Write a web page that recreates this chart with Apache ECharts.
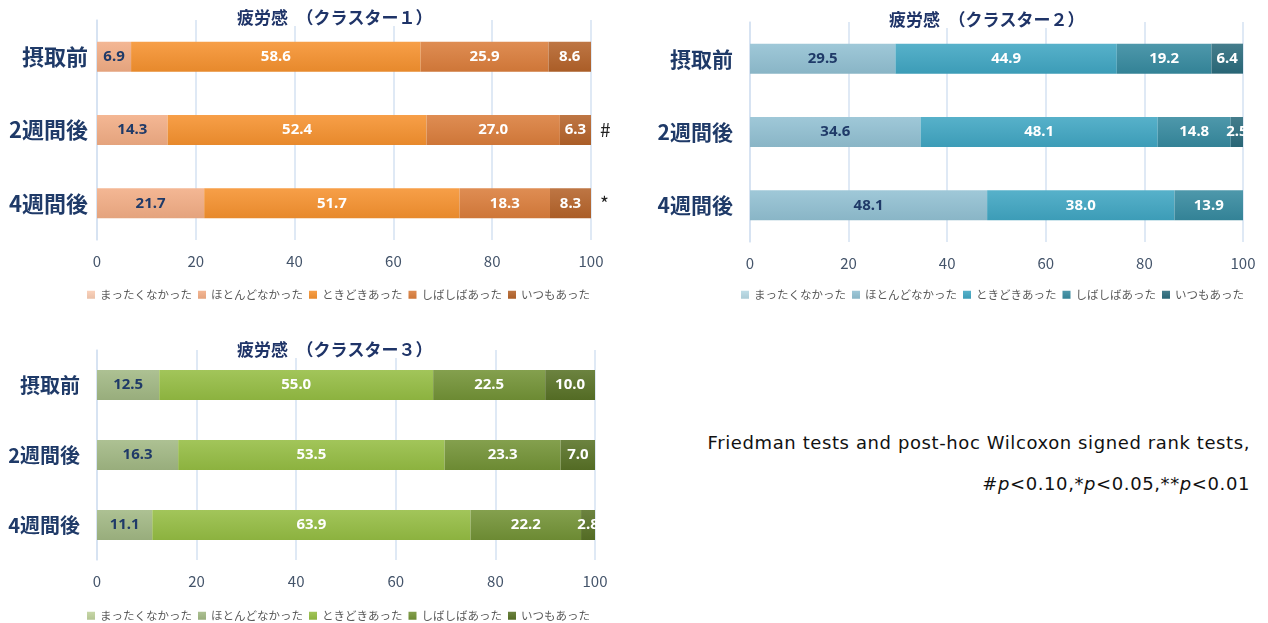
<!DOCTYPE html>
<html>
<head>
<meta charset="utf-8">
<script src="https://cdn.jsdelivr.net/npm/echarts@6/dist/echarts.min.js"></script>
<style>
  body { margin: 0; background: #fff; width: 1268px; height: 623px; position: relative; overflow: hidden; }
  .chart { position: absolute; }
  #note { position: absolute; right: 18px; top: 422px; text-align: right;
          font-family: "DejaVu Sans", sans-serif; font-size: 18px; letter-spacing: 0.6px;
          color: #111; line-height: 41px; }
</style>
</head>
<body>
<div id="chart1" class="chart" style="left:0;top:0;width:640px;height:310px"></div>
<div id="chart2" class="chart" style="left:634px;top:0;width:634px;height:310px"></div>
<div id="chart3" class="chart" style="left:0;top:320px;width:640px;height:303px"></div>
<div id="note">Friedman tests and post-hoc Wilcoxon signed rank tests,<br>#<i>p</i>&lt;0.10,*<i>p</i>&lt;0.05,**<i>p</i>&lt;0.01</div>
<script>
const categories = ["摂取前", "2週間後", "4週間後"];
const answers = ["まったくなかった", "ほとんどなかった", "ときどきあった", "しばしばあった", "いつもあった"];

// each array: values per category (摂取前, 2週間後, 4週間後)
const c1None = [0, 0, 0];
const c1Rarely = [6.9, 14.3, 21.7];
const c1Sometimes = [58.6, 52.4, 51.7];
const c1Often = [25.9, 27.0, 18.3];
const c1Always = [8.6, 6.3, 8.3];
const c1Marks = ["", "#", "*"];

const c2None = [0, 0, 0];
const c2Rarely = [29.5, 34.6, 48.1];
const c2Sometimes = [44.9, 48.1, 38.0];
const c2Often = [19.2, 14.8, 13.9];
const c2Always = [6.4, 2.5, 0];
const c2Marks = ["", "", ""];

const c3None = [0, 0, 0];
const c3Rarely = [12.5, 16.3, 11.1];
const c3Sometimes = [55.0, 53.5, 63.9];
const c3Often = [22.5, 23.3, 22.2];
const c3Always = [10.0, 7.0, 2.8];
const c3Marks = ["", "", ""];

const orange = ["#f9ccb3", "#f3ad85", "#f6922f", "#db7d3c", "#b5632a"];
const blue = ["#b6d8e4", "#92c1d3", "#40a6c3", "#368aa0", "#2b6b7c"];
const green = ["#bfd29c", "#a2b884", "#95bd43", "#739336", "#587226"];

function mix(hex, target, t) {
    const a = echarts.color.parse(hex);
    const b = echarts.color.parse(target);
    const c = [0, 1, 2].map(i => Math.round(a[i] + (b[i] - a[i]) * t));
    return "rgb(" + c.join(",") + ")";
}

function grad(color) {
    return new echarts.graphic.LinearGradient(0, 0, 0, 1, [
        {offset: 0, color: mix(color, "#ffffff", 0.12)},
        {offset: 1, color: mix(color, "#000000", 0.06)},
    ]);
}

function configureChart(chart, title, values, colors, marks, lay) {
    const series = values.map((vals, i) => ({
        name: answers[i],
        type: "bar",
        stack: "total",
        barWidth: 30,
        data: vals,
        itemStyle: {color: grad(colors[i])},
        label: {
            show: true,
            position: "inside",
            fontFamily: "Noto Sans",
            fontWeight: "bold",
            fontSize: 15,
            color: i < 2 ? "#1f3a68" : "#ffffff",
            formatter: p => (p.value > 0 ? p.value.toFixed(1) : ""),
        },
    }));

    const option = {
        animation: false,
        color: colors,
        textStyle: {fontFamily: "Noto Sans CJK JP"},
        title: {
            text: title,
            left: lay.titleLeft,
            top: lay.titleTop,
            padding: [0, 12],
            backgroundColor: "#ffffff",
            textStyle: {fontSize: 17, fontWeight: "bold", color: "#1f3468", fontFamily: "Noto Sans CJK JP"},
        },
        legend: {
            top: lay.legendTop,
            left: lay.legendLeft,
            icon: "rect",
            itemWidth: 8,
            itemHeight: 8,
            itemGap: 6,
            textStyle: {fontSize: 11.5, color: "#595959"},
            data: answers,
        },
        grid: {left: lay.left, right: lay.right, top: lay.top, bottom: lay.bottom},
        xAxis: {
            type: "value",
            min: 0,
            max: 100,
            interval: 20,
            axisLine: {show: false},
            axisTick: {show: false},
            axisLabel: {fontSize: 15, color: "#44546a", margin: 14},
            splitLine: {lineStyle: {color: "#d5e2f2", width: 1.5}},
        },
        yAxis: [
            {
                type: "category",
                inverse: true,
                data: categories,
                axisLine: {lineStyle: {color: "#d5e2f2", width: 1.5}},
                axisTick: {show: false},
                axisLabel: {fontSize: lay.labelSize, fontWeight: "bold", color: "#1f3a68", margin: lay.labelMargin},
            },
            {
                type: "category",
                inverse: true,
                position: "right",
                data: marks,
                axisLine: {show: false},
                axisTick: {show: false},
                axisLabel: {fontSize: 19, color: "#222", margin: 9},
            },
        ],
        series: series,
    };
    chart.setOption(option);
}

const chart1 = echarts.init(document.getElementById("chart1"));
const chart2 = echarts.init(document.getElementById("chart2"));
const chart3 = echarts.init(document.getElementById("chart3"));

configureChart(chart1, "疲労感　（クラスター１）",
    [c1None, c1Rarely, c1Sometimes, c1Often, c1Always], orange, c1Marks,
    {left: 97, right: 49, top: 20, bottom: 70, titleLeft: 225, titleTop: 9,
     legendLeft: 82, legendTop: 284, labelMargin: 9, labelSize: 22});
configureChart(chart2, "疲労感　（クラスター２）",
    [c2None, c2Rarely, c2Sometimes, c2Often, c2Always], blue, c2Marks,
    {left: 116, right: 25, top: 22, bottom: 68, titleLeft: 243, titleTop: 11,
     legendLeft: 102, legendTop: 284, labelMargin: 17, labelSize: 21});
configureChart(chart3, "疲労感　（クラスター３）",
    [c3None, c3Rarely, c3Sometimes, c3Often, c3Always], green, c3Marks,
    {left: 97, right: 45, top: 30, bottom: 63, titleLeft: 225, titleTop: 21,
     legendLeft: 82, legendTop: 285, labelMargin: 17, labelSize: 20});
</script>
</body>
</html>
